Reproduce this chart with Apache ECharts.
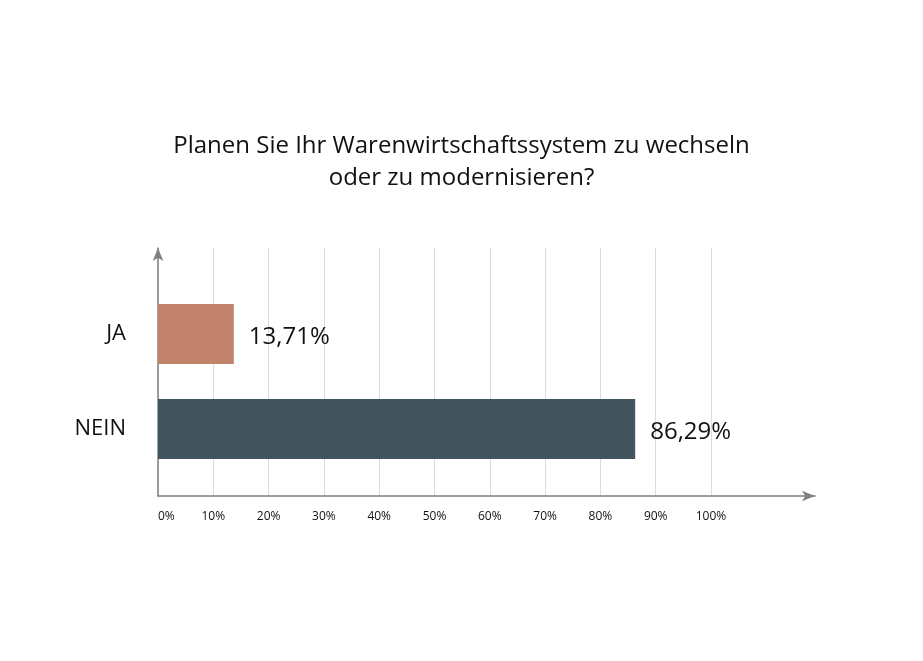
<!DOCTYPE html>
<html><head><meta charset="utf-8">
<script src="https://cdn.jsdelivr.net/npm/echarts@6/dist/echarts.min.js"></script>
<style>html,body{margin:0;padding:0;background:#fff}#c{width:923px;height:661px}</style>
</head><body><div id="c"></div>
<script>
const titleText = 'Planen Sie Ihr Warenwirtschaftssystem zu wechseln\noder zu modernisieren?';
const categories = ['JA', 'NEIN'];
const values = [13.71, 86.29];
const valueLabels = ['13,71%', '86,29%'];
const barColors = ['#C2836C', '#44545E'];
const tickMin = 0, tickMax = 100, tickStep = 10;

const FONT = 'Open Sans';
const chart = echarts.init(document.getElementById('c'), null, {renderer: 'canvas'});
const axisGray = '#7f7f7f';
chart.setOption({
  backgroundColor: '#fff',
  animation: false,
  title: {
    text: titleText, left: 'center', top: 125,
    textStyle: {fontFamily: FONT, fontSize: 24, fontWeight: 'normal', color: '#111', lineHeight: 32}
  },
  grid: [
    {left: 158, width: 657, top: 248, height: 248},
    {left: 158, width: 553, top: 248, height: 248},
    {left: 158, width: 553, top: 334, height: 95}
  ],
  xAxis: [
    {gridIndex: 0, type: 'value', min: 0, max: 100 * 657 / 553,
     axisLine: {show: true, symbol: ['none', 'arrow'], symbolSize: [8, 13], lineStyle: {color: axisGray, width: 1.5}},
     axisTick: {show: false}, axisLabel: {show: false}, splitLine: {show: false}},
    {gridIndex: 1, type: 'value', min: tickMin, max: tickMax, interval: tickStep,
     axisLine: {show: false}, axisTick: {show: false},
     splitLine: {show: true, lineStyle: {color: '#dcdcdc', width: 1}},
     axisLabel: {formatter: '{value}%', fontFamily: FONT, fontSize: 12, color: '#111', margin: 15, alignMinLabel: 'left'}},
    {gridIndex: 2, type: 'value', min: tickMin, max: tickMax, show: false}
  ],
  yAxis: [
    {gridIndex: 0, type: 'value', min: 0, max: 1,
     axisLine: {show: true, symbol: ['none', 'arrow'], symbolSize: [8, 13], lineStyle: {color: axisGray, width: 1.5}},
     axisTick: {show: false}, axisLabel: {show: false}, splitLine: {show: false}},
    {gridIndex: 1, type: 'value', show: false},
    {gridIndex: 2, type: 'category', data: categories, inverse: true, boundaryGap: false,
     axisLine: {show: false}, axisTick: {show: false},
     axisLabel: {fontFamily: FONT, fontSize: 22, color: '#111', margin: 32}}
  ],
  series: [{
    type: 'bar', xAxisIndex: 2, yAxisIndex: 2, barWidth: 60,
    data: values.map((v, i) => ({value: v, itemStyle: {color: barColors[i]}})),
    label: {show: true, position: 'right', distance: 15, offset: [0, 3], fontFamily: FONT, fontSize: 24, color: '#111',
      formatter: p => valueLabels[p.dataIndex]}
  }]
});
</script></body></html>
